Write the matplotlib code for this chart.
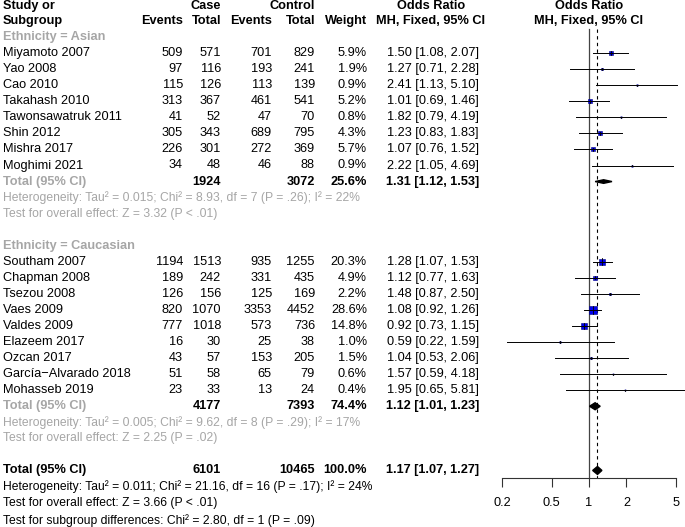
import numpy as np
import matplotlib
matplotlib.use("Agg")
import matplotlib.pyplot as plt

plt.rcParams["font.family"] = ["Liberation Sans", "DejaVu Sans"]

# ── Data ─────────────────────────────────────────────────────────────────────
ASIAN_STUDIES = ["Miyamoto 2007", "Yao 2008", "Cao 2010", "Takahash 2010",
                 "Tawonsawatruk 2011", "Shin 2012", "Mishra 2017", "Moghimi 2021"]
ASIAN_CASE_EV = [509, 97, 115, 313, 41, 305, 226, 34]
ASIAN_CASE_N = [571, 116, 126, 367, 52, 343, 301, 48]
ASIAN_CTRL_EV = [701, 193, 113, 461, 47, 689, 272, 46]
ASIAN_CTRL_N = [829, 241, 139, 541, 70, 795, 369, 88]
ASIAN_WEIGHT = [5.9, 1.9, 0.9, 5.2, 0.8, 4.3, 5.7, 0.9]
ASIAN_OR = [1.50, 1.27, 2.41, 1.01, 1.82, 1.23, 1.07, 2.22]
ASIAN_LO = [1.08, 0.71, 1.13, 0.69, 0.79, 0.83, 0.76, 1.05]
ASIAN_HI = [2.07, 2.28, 5.10, 1.46, 4.19, 1.83, 1.52, 4.69]
ASIAN_TOTAL = {"case_n": 1924, "ctrl_n": 3072, "weight": 25.6,
               "or": 1.31, "lo": 1.12, "hi": 1.53}
ASIAN_HET = "Heterogeneity: Tau\u00b2 = 0.015; Chi\u00b2 = 8.93, df = 7 (P = .26); I\u00b2 = 22%"
ASIAN_TEST = "Test for overall effect: Z = 3.32 (P < .01)"

CAUC_STUDIES = ["Southam 2007", "Chapman 2008", "Tsezou 2008", "Vaes 2009",
                "Valdes 2009", "Elazeem 2017", "Ozcan 2017",
                "Garc\u00eda\u2212Alvarado 2018", "Mohasseb 2019"]
CAUC_CASE_EV = [1194, 189, 126, 820, 777, 16, 43, 51, 23]
CAUC_CASE_N = [1513, 242, 156, 1070, 1018, 30, 57, 58, 33]
CAUC_CTRL_EV = [935, 331, 125, 3353, 573, 25, 153, 65, 13]
CAUC_CTRL_N = [1255, 435, 169, 4452, 736, 38, 205, 79, 24]
CAUC_WEIGHT = [20.3, 4.9, 2.2, 28.6, 14.8, 1.0, 1.5, 0.6, 0.4]
CAUC_OR = [1.28, 1.12, 1.48, 1.08, 0.92, 0.59, 1.04, 1.57, 1.95]
CAUC_LO = [1.07, 0.77, 0.87, 0.92, 0.73, 0.22, 0.53, 0.59, 0.65]
CAUC_HI = [1.53, 1.63, 2.50, 1.26, 1.15, 1.59, 2.06, 4.18, 5.81]
CAUC_TOTAL = {"case_n": 4177, "ctrl_n": 7393, "weight": 74.4,
              "or": 1.12, "lo": 1.01, "hi": 1.23}
CAUC_HET = "Heterogeneity: Tau\u00b2 = 0.005; Chi\u00b2 = 9.62, df = 8 (P = .29); I\u00b2 = 17%"
CAUC_TEST = "Test for overall effect: Z = 2.25 (P = .02)"

OVERALL = {"case_n": 6101, "ctrl_n": 10465, "weight": 100.0,
           "or": 1.17, "lo": 1.07, "hi": 1.27}
OVERALL_HET = "Heterogeneity: Tau\u00b2 = 0.011; Chi\u00b2 = 21.16, df = 16 (P = .17); I\u00b2 = 24%"
OVERALL_TEST = "Test for overall effect: Z = 3.66 (P < .01)"
SUBGROUP_TEST = "Test for subgroup differences: Chi\u00b2 = 2.80, df = 1 (P = .09)"

XTICKS = [0.2, 0.5, 1, 2, 5]

# ── Layout (pixels) ──────────────────────────────────────────────────────────
W, H = 685, 527
FS = 9.2
FS_HET = 8.7
GRAY = "#a6a6a6"
SQUARE = "#0000ee"
ROW0, DY = 5.0, 16.05
COL_STUDY = 3
COL_CASE_EV, COL_CASE_N = 183, 221
COL_CTRL_EV, COL_CTRL_N = 272, 315
COL_WEIGHT, COL_OR = 367, 479
COL_OR_HEAD = 431
FOREST_L, FOREST_R = 502, 676
AXIS_Y = 478


def row_y(i):
    return ROW0 + i * DY


def fmt_ci(o, lo, hi):
    return f"{o:.2f} [{lo:.2f}, {hi:.2f}]"


def txt(ax, x, y, s, ha="right", bold=False, color="black", fs=FS):
    ax.text(x, y, s, ha=ha, va="center", fontsize=fs, color=color,
            fontweight="bold" if bold else "normal")


def study_rows(ax, axf, start, names, cev, cn, tev, tn, wt, ors, los, his):
    for k, name in enumerate(names):
        y = row_y(start + k)
        txt(ax, COL_STUDY, y, name, ha="left")
        txt(ax, COL_CASE_EV, y, str(cev[k]))
        txt(ax, COL_CASE_N, y, str(cn[k]))
        txt(ax, COL_CTRL_EV, y, str(tev[k]))
        txt(ax, COL_CTRL_N, y, str(tn[k]))
        txt(ax, COL_WEIGHT, y, f"{wt[k]:.1f}%")
        txt(ax, COL_OR, y, fmt_ci(ors[k], los[k], his[k]))
        side_pt = max(1.2, 1.55 * np.sqrt(wt[k])) * 0.72
        axf.plot(ors[k], y, marker="s", ms=side_pt, color=SQUARE,
                 mec="#000080", mew=0.4, zorder=3, clip_on=False)
        axf.plot([los[k], his[k]], [y, y], color="black", lw=0.7,
                 zorder=4, clip_on=False)
        axf.plot([ors[k], ors[k]], [y - side_pt / 1.5, y + side_pt / 1.5],
                 color="black", lw=0.6, zorder=4, clip_on=False)


def total_row(ax, axf, y, tot, label_color, half_h):
    txt(ax, COL_STUDY, y, "Total (95% CI)", ha="left", bold=True, color=label_color)
    txt(ax, COL_CASE_N, y, str(tot["case_n"]), bold=True)
    txt(ax, COL_CTRL_N, y, str(tot["ctrl_n"]), bold=True)
    txt(ax, COL_WEIGHT, y, f"{tot['weight']:.1f}%", bold=True)
    txt(ax, COL_OR, y, fmt_ci(tot["or"], tot["lo"], tot["hi"]), bold=True)
    axf.fill([tot["lo"], tot["or"], tot["hi"], tot["or"]],
             [y, y - half_h, y, y + half_h], color="black", zorder=5,
             clip_on=False)


def main():
    fig = plt.figure(figsize=(W / 100, H / 100), dpi=100)
    ax = fig.add_axes([0, 0, 1, 1])
    ax.set_xlim(0, W)
    ax.set_ylim(H, 0)
    ax.axis("off")

    axf = fig.add_axes([FOREST_L / W, 0, (FOREST_R - FOREST_L) / W, 1])
    axf.set_xscale("log")
    axf.set_xlim(XTICKS[0], XTICKS[-1])
    axf.set_ylim(H, 0)
    axf.patch.set_alpha(0)
    for s in ("left", "right", "top"):
        axf.spines[s].set_visible(False)
    axf.spines["bottom"].set_position(("data", AXIS_Y))
    axf.spines["bottom"].set_color("#333333")
    axf.spines["bottom"].set_linewidth(0.8)
    axf.set_yticks([])
    axf.set_xticks(XTICKS)
    axf.set_xticklabels([f"{t:g}" for t in XTICKS], fontsize=FS)
    axf.minorticks_off()
    axf.tick_params(axis="x", direction="out", length=6.5, width=0.8,
                    color="#333333", pad=7.5)

    # Headers
    h0, h1 = row_y(0) + 1, row_y(1)
    txt(ax, COL_STUDY, h0, "Study or", ha="left", bold=True)
    txt(ax, COL_STUDY, h1, "Subgroup", ha="left", bold=True)
    txt(ax, COL_CASE_N, h0, "Case", bold=True)
    txt(ax, COL_CTRL_N, h0, "Control", bold=True)
    txt(ax, COL_CASE_EV, h1, "Events", bold=True)
    txt(ax, COL_CASE_N, h1, "Total", bold=True)
    txt(ax, COL_CTRL_EV, h1, "Events", bold=True)
    txt(ax, COL_CTRL_N, h1, "Total", bold=True)
    txt(ax, COL_WEIGHT, h1, "Weight", bold=True)
    txt(ax, COL_OR_HEAD, h0, "Odds Ratio", ha="center", bold=True)
    txt(ax, COL_OR_HEAD, h1, "MH, Fixed, 95% CI", ha="center", bold=True)
    fx = (FOREST_L + FOREST_R) / 2
    txt(ax, fx, h0, "Odds Ratio", ha="center", bold=True)
    txt(ax, fx, h1, "MH, Fixed, 95% CI", ha="center", bold=True)

    # Asian subgroup
    txt(ax, COL_STUDY, row_y(2), "Ethnicity = Asian", ha="left", bold=True, color=GRAY)
    study_rows(ax, axf, 3, ASIAN_STUDIES, ASIAN_CASE_EV, ASIAN_CASE_N,
               ASIAN_CTRL_EV, ASIAN_CTRL_N, ASIAN_WEIGHT,
               ASIAN_OR, ASIAN_LO, ASIAN_HI)
    r = 3 + len(ASIAN_STUDIES)
    total_row(ax, axf, row_y(r), ASIAN_TOTAL, GRAY, 1.8)
    txt(ax, COL_STUDY, row_y(r + 1), ASIAN_HET, ha="left", color=GRAY, fs=FS_HET)
    txt(ax, COL_STUDY, row_y(r + 2), ASIAN_TEST, ha="left", color=GRAY, fs=FS_HET)

    # Caucasian subgroup
    r += 4
    txt(ax, COL_STUDY, row_y(r), "Ethnicity = Caucasian", ha="left", bold=True, color=GRAY)
    study_rows(ax, axf, r + 1, CAUC_STUDIES, CAUC_CASE_EV, CAUC_CASE_N,
               CAUC_CTRL_EV, CAUC_CTRL_N, CAUC_WEIGHT,
               CAUC_OR, CAUC_LO, CAUC_HI)
    r += 1 + len(CAUC_STUDIES)
    total_row(ax, axf, row_y(r), CAUC_TOTAL, GRAY, 3.5)
    txt(ax, COL_STUDY, row_y(r + 1), CAUC_HET, ha="left", color=GRAY, fs=FS_HET)
    txt(ax, COL_STUDY, row_y(r + 2), CAUC_TEST, ha="left", color=GRAY, fs=FS_HET)

    # Overall
    r += 4
    total_row(ax, axf, row_y(r), OVERALL, "black", 4.0)
    txt(ax, COL_STUDY, row_y(r + 1), OVERALL_HET, ha="left", fs=FS_HET)
    txt(ax, COL_STUDY, row_y(r + 2), OVERALL_TEST, ha="left", fs=FS_HET)
    txt(ax, COL_STUDY, row_y(r + 3.1), SUBGROUP_TEST, ha="left", fs=FS_HET)

    # Reference lines
    top = row_y(1) + 8
    axf.plot([1, 1], [top, AXIS_Y], color="#444444", lw=0.9, zorder=2)
    axf.plot([OVERALL["or"]] * 2, [top, AXIS_Y], color="black", lw=0.8,
             ls=(0, (3, 3)), zorder=2)

    fig.savefig("out.png", dpi=100)
    plt.close(fig)


if __name__ == "__main__":
    main()
